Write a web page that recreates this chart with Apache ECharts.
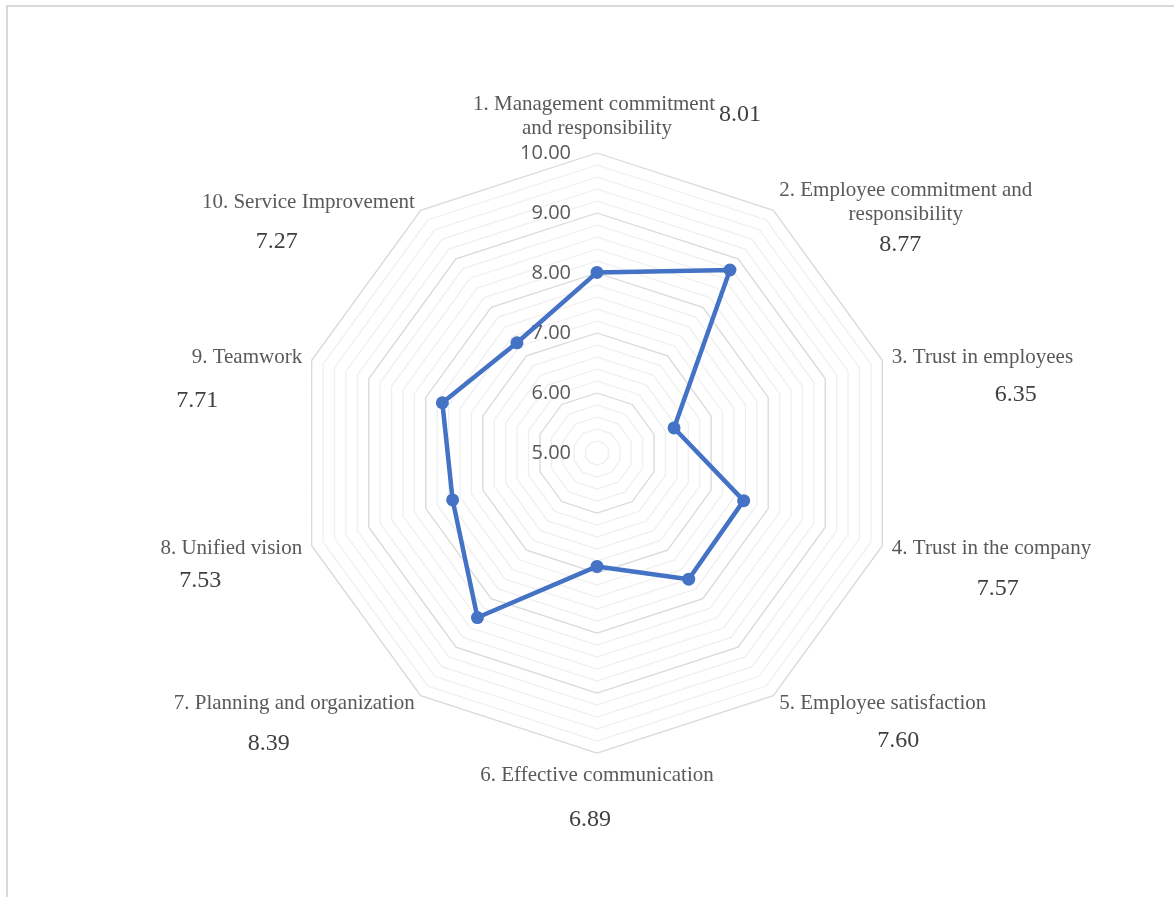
<!DOCTYPE html>
<html>
<head>
<meta charset="utf-8">
<script src="https://cdn.jsdelivr.net/npm/echarts@6/dist/echarts.min.js"></script>
<style>
html, body { margin: 0; padding: 0; background: #fff; overflow: hidden; }
#frame { position: absolute; left: 6px; top: 5px; width: 1300px; height: 1000px; border: 2px solid #d9d9d9; }
#chart { position: absolute; left: 0; top: 0; width: 1174px; height: 897px; }
</style>
</head>
<body>
<div id="frame"></div>
<div id="chart"></div>
<script>
// ---------------- data ----------------
var categories = [
	'1. Management commitment\nand responsibility',
	'2. Employee commitment and\nresponsibility',
	'3. Trust in employees',
	'4. Trust in the company',
	'5. Employee satisfaction',
	'6. Effective communication',
	'7. Planning and organization',
	'8. Unified vision',
	'9. Teamwork',
	'10. Service Improvement'
];
var scores = [8.01, 8.77, 6.35, 7.57, 7.60, 6.89, 8.39, 7.53, 7.71, 7.27];
var tickLabels = ['5.00', '6.00', '7.00', '8.00', '9.00', '10.00'];
var scaleMin = 5;
var scaleMax = 10;

// ---------------- label layout (style only) ----------------
var serif = 'Liberation Serif';
var labelLayout = [
	{},	// axis 1 handled on its own
	{nameAlign: 'center', vh: 36, vAlign: 'left',   vPad: [0, 0, 0, 100]},
	{nameAlign: 'left',   vh: 50, vAlign: 'left',   vPad: [0, 0, 0, 103]},
	{nameAlign: 'left',   vh: 56, vAlign: 'left',   vPad: [0, 0, 0, 85]},
	{nameAlign: 'left',   vh: 50, vAlign: 'left',   vPad: [0, 0, 0, 98]},
	{nameAlign: 'center', vh: 66, vAlign: 'center', vPad: [0, 14, 0, 0], noSpacer: true},
	{nameAlign: 'right',  vh: 56, vAlign: 'right',  vPad: [0, 125, 0, 0]},
	{nameAlign: 'right',  vh: 40, vAlign: 'right',  vPad: [0, 81, 0, 0]},
	{nameAlign: 'right',  vh: 62, vAlign: 'right',  vPad: [0, 84, 0, 0]},
	{nameAlign: 'right',  vh: 54, vAlign: 'right',  vPad: [0, 117, 0, 0]}
];

var rich = {
	n0: {align: 'center', fontFamily: serif, fontSize: 21, color: '#595959', lineHeight: 24},
	p0: {width: 40, fontSize: 10, lineHeight: 24},
	v0: {fontFamily: serif, fontSize: 24, color: '#404040', lineHeight: 24, padding: [22, 0, 0, 4]},
	e0: {fontSize: 3, lineHeight: 3}
};
for (var k = 1; k < labelLayout.length; k++) {
	var L = labelLayout[k];
	rich['n' + k] = {align: L.nameAlign, fontFamily: serif, fontSize: 21, color: '#595959', lineHeight: 24};
	rich['v' + k] = {align: L.vAlign, fontFamily: serif, fontSize: 24, color: '#404040', lineHeight: L.vh, padding: L.vPad};
	rich['s' + k] = {fontSize: 10, lineHeight: L.vh};
}

function axisNameFormatter(name)
{
	var idx = categories.indexOf(name);
	var lines = name.split('\n');
	var val = scores[idx].toFixed(2);
	if (idx === 0) {
		return '{p0| }{n0|' + lines[0] + '}{v0|' + val + '}\n{n0|' + lines[1] + '}\n{e0| }';
	}
	var parts = [];
	if (!labelLayout[idx].noSpacer) {
		parts.push('{s' + idx + '| }');
	}
	lines.forEach(function(l){
		parts.push('{n' + idx + '|' + l + '}');
	});
	parts.push('{v' + idx + '|' + val + '}');
	return parts.join('\n');
}

// ECharts lays radar axes counter-clockwise; the reference runs clockwise
var order = [0];
for (var i = categories.length - 1; i > 0; i--) order.push(i);

var indicators = order.map(function(i, pos){
	var ind = {name: categories[i], min: scaleMin, max: scaleMax};
	if (pos === 0) {
		ind.axisLabel = {
			show: true,
			fontFamily: 'Open Sans',
			fontSize: 20,
			color: '#595959',
			margin: 26,
			formatter: function(v){
				var r = Math.round(v);
				if (Math.abs(v - r) > 1e-6) return '';
				return tickLabels[r - scaleMin];
			}
		};
	}
	return ind;
});

var option = {
	animation: false,
	radar: {
		center: [597, 453],
		radius: 300,
		startAngle: 90,
		shape: 'polygon',
		splitNumber: 25,
		nameGap: 10,
		indicator: indicators,
		axisName: {
			color: '#595959',
			fontFamily: serif,
			fontSize: 21,
			lineHeight: 24,
			formatter: axisNameFormatter,
			rich: rich
		},
		axisLine: {show: false},
		axisTick: {show: false},
		axisLabel: {show: false},
		splitArea: {show: false},
		splitLine: {
			lineStyle: {
				width: 1.3,
				color: ['#d9d9d9', '#efefef', '#efefef', '#efefef', '#efefef']
			}
		}
	},
	series: [{
		type: 'radar',
		symbol: 'circle',
		symbolSize: 13,
		itemStyle: {color: '#4472c4'},
		lineStyle: {color: '#4472c4', width: 4.5},
		data: [{value: order.map(function(i){ return scores[i]; })}]
	}]
};

var myChart = echarts.init(document.getElementById('chart'));
myChart.setOption(option);
</script>
</body>
</html>
